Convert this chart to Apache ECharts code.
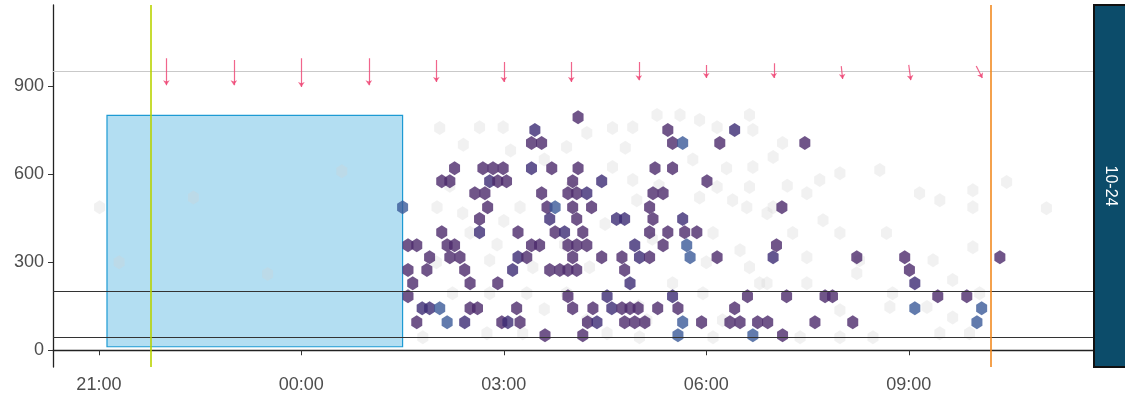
<!DOCTYPE html>
<html><head><meta charset="utf-8">
<script src="https://cdn.jsdelivr.net/npm/echarts@6/dist/echarts.min.js"></script>
<style>html,body{margin:0;padding:0;background:#fff}#c{width:1125px;height:400px}</style>
</head><body><div id="c"></div>
<script>
// x values are hours from midnight of the first day (27 = 03:00 next day)
const xTicks = [21, 24, 27, 30, 33];
const yTicks = [0, 300, 600, 900];
const panelLabel = '10-24';

// highlighted day: [hour, value, countLevel]
const dayHexes = [
  [28.10,794,1],
  [27.46,750,2],[29.43,750,1],[30.42,750,2],
  [27.41,706,1],[27.56,706,1],[29.50,706,1],[29.65,706,3],[30.20,706,1],[31.46,706,1],
  [26.27,620,1],[26.69,620,1],[26.84,620,1],[26.99,620,1],[27.41,620,2],[27.71,620,1],[28.10,620,1],[29.24,620,1],[29.50,620,1],
  [26.08,576,1],[26.20,576,1],[26.79,576,2],[26.91,576,1],[27.04,576,1],[28.02,576,1],[28.45,576,2],[30.01,576,1],
  [26.57,535,1],[26.72,535,1],[27.56,535,1],[27.95,535,1],[28.08,535,1],[28.23,535,2],[29.21,535,1],[29.36,535,1],
  [25.50,487,3],[26.76,487,1],[27.64,487,1],[27.76,487,3],[28.02,487,1],[28.30,487,1],[29.16,487,1],[31.12,487,1],
  [26.64,447,1],[27.68,447,2],[28.08,447,1],[28.67,447,2],[28.79,447,2],[29.21,447,1],[29.65,447,2],
  [26.08,402,1],[26.64,402,2],[27.21,402,1],[27.76,402,1],[27.90,402,2],[28.17,402,1],[29.16,402,1],[29.43,402,1],[29.68,402,1],[29.86,402,1],
  [25.58,358,1],[25.71,358,1],[26.16,358,1],[26.27,358,1],[27.41,358,1],[27.53,358,1],[27.95,358,1],[28.08,358,1],[28.23,358,1],[28.94,358,2],[29.36,358,1],[29.71,358,3],[31.04,358,1],
  [25.90,317,1],[26.20,317,1],[26.35,317,1],[27.21,317,2],[27.34,317,1],[28.02,317,1],[28.45,317,1],[28.75,317,1],[29.01,317,2],[29.16,317,1],[29.76,317,3],[30.16,317,1],[30.99,317,2],[32.23,317,1],[32.94,317,1],[34.35,317,1],
  [25.58,273,1],[25.86,273,1],[26.42,273,1],[27.13,273,2],[27.68,273,1],[27.83,273,1],[27.95,273,1],[28.08,273,1],[28.79,273,1],[33.01,273,1],
  [25.65,228,1],[26.50,228,1],[26.91,228,1],[28.87,228,2],[33.09,228,2],
  [25.58,184,1],[27.95,184,1],[28.53,184,2],[29.50,184,2],[30.61,184,1],[31.19,184,1],[31.76,184,1],[31.87,184,1],[33.43,184,1],[33.86,184,1],
  [25.79,143,2],[25.90,143,2],[26.05,143,3],[26.50,143,1],[26.61,143,1],[27.19,143,1],[28.02,143,1],[28.32,143,1],[28.60,143,2],[28.75,143,1],[28.87,143,1],[28.99,143,1],[29.28,143,1],[29.58,143,1],[30.42,143,1],[33.09,143,3],[34.08,143,3],
  [25.71,95,1],[26.16,95,3],[26.42,95,2],[26.97,95,1],[27.06,95,2],[27.24,95,1],[28.24,95,1],[28.38,95,2],[28.79,95,1],[28.94,95,1],[29.09,95,1],[29.65,95,3],[29.93,95,1],[30.35,95,1],[30.50,95,1],[30.76,95,1],[30.91,95,1],[31.61,95,1],[32.17,95,1],[34.01,95,3],
  [27.61,51,1],[28.17,51,1],[29.58,51,3],[30.69,51,3],[31.13,51,1]
];

// background (other days), faint grey
const otherHexes = [
  [21.01,487],[21.30,300],[22.4,520],[23.5,260],[24.6,610],
  [25.80,44],[26.05,757],[26.64,760],[26.99,760],[27.93,692],[28.23,740],[28.61,757],[28.91,760],[29.27,801],[29.61,801],[29.90,784],[30.16,760],[30.69,750],
  [26.01,487],[26.39,467],[27.24,487],[28.61,624],[28.91,580],[28.97,511],[30.16,556],[30.39,511],[30.64,556],[30.90,467],[30.10,399],[30.50,341],[30.64,283],[30.90,228],
  [28.27,283],[27.93,194],[27.34,194],[26.79,194],[26.24,194],[28.23,102],[29.12,102],[29.50,228],[29.95,194],[30.24,102],[26.75,58],[27.28,58],[28.53,58],[29.01,44],[30.10,44],[27.43,283],[26.79,307],
  [27.6,650],[28.0,560],[26.5,400],[27.0,440],[29.8,650],[29.3,560],[28.5,430],[29.2,380],[26.2,560],[27.9,360],[30.3,620],[31.2,560],[30.0,300],[29.0,150],[27.6,140],
  [26.4,700],[27.1,680],[28.8,690],[29.9,520],[26.0,300],[26.9,360],
  [30.64,801],[31.13,706],[30.69,624],[30.99,658],[31.68,580],[31.49,535],[31.98,603],[32.57,614],[33.16,535],[33.46,511],[33.95,545],[33.95,487],[34.45,573],[35.04,484],
  [31.73,443],[31.28,399],[31.98,399],[32.67,399],[32.27,307],[31.49,317],[33.36,307],[33.95,351],[30.79,228],[31.49,228],[32.23,262],[32.76,194],[33.65,239],[34.05,194],
  [31.98,136],[32.72,147],[33.27,147],[33.65,112],[31.39,44],[31.98,44],[32.47,44],[33.46,58],[33.90,58],[30.60,487],[30.99,487]
];

const arrowHours  = [22, 23, 24, 25, 26, 27, 28, 29, 30, 31, 32, 33, 34];
const arrowTop    = [995, 989, 995, 995, 989, 982, 982, 982, 972, 978, 968, 972, 968];
const arrowBottom = [903, 903, 897, 903, 914, 914, 914, 920, 927, 927, 924, 920, 927];
const arrowShift  = [0, 0, 0, 0, 0, 0, 0, 0, 0, 0, 0.02, 0.03, 0.09];

const boxStart = [21.12, 12];
const boxEnd = [25.50, 800];
const startLine = 21.77;
const endLine = 34.21;
const hLines = [200, 45];
const refLine = 950;

const hex = 'path://M0,-1 L0.866,-0.5 L0.866,0.5 L0,1 L-0.866,0.5 L-0.866,-0.5 Z';
const levelColors = {1:'#4c2a6c', 2:'#3c2c74', 3:'#3b5a98'};
const font = 'Liberation Sans, Arial, sans-serif';

const chart = echarts.init(document.getElementById('c'));
chart.setOption({
  animation: false,
  grid: {left: 53, right: 32, top: 5, bottom: 33},
  xAxis: {
    type: 'value', min: 20.32, max: 35.73,
    axisLine: {lineStyle: {color: '#222', width: 1.3}},
    axisTick: {customValues: xTicks, length: 5, lineStyle: {color: '#333'}},
    axisLabel: {customValues: xTicks, margin: 9, color: '#4d4d4d', fontSize: 18, fontFamily: font,
      formatter: v => { const h = Math.round(v) % 24; return (h < 10 ? '0' : '') + h + ':00'; }},
    splitLine: {show: false}
  },
  yAxis: {
    type: 'value', min: -57, max: 1176,
    axisLine: {show: true, lineStyle: {color: '#222', width: 1.3}},
    axisTick: {show: true, customValues: yTicks, length: 5, lineStyle: {color: '#333'}},
    axisLabel: {customValues: yTicks, margin: 9, color: '#4d4d4d', fontSize: 18, fontFamily: font},
    splitLine: {show: false}
  },
  graphic: [
    {type: 'rect', shape: {x: 1094, y: 5, width: 40, height: 362}, style: {fill: '#0c4c6a', stroke: '#111', lineWidth: 2}, z: 100},
    {type: 'text', x: 1110, y: 186, rotation: -Math.PI / 2,
      style: {text: panelLabel, fill: '#fff', font: '16px ' + font, align: 'center', verticalAlign: 'middle'}, z: 101}
  ],
  series: [
    {type: 'scatter', z: 1, silent: true, symbol: hex, symbolSize: [11, 14],
      itemStyle: {color: '#d2d2d2', opacity: 0.3},
      data: otherHexes},
    {type: 'scatter', z: 2, silent: true, data: [],
      markArea: {silent: true, itemStyle: {color: 'rgba(128,200,233,0.6)', borderColor: '#1d9ad3', borderWidth: 1.2},
        data: [[{coord: boxStart}, {coord: boxEnd}]]}},
    {type: 'scatter', z: 3, silent: true, symbol: hex, symbolSize: [11, 14],
      itemStyle: {color: p => levelColors[p.value[2]]},
      data: dayHexes},
    {type: 'scatter', z: 4, silent: true, data: [],
      markLine: {silent: true, symbol: 'none', label: {show: false},
        data: [
          ...hLines.map(v => ({yAxis: v, lineStyle: {color: '#333', width: 1, type: 'solid'}})),
          {yAxis: refLine, lineStyle: {color: '#c9c9c9', width: 1, type: 'solid'}},
          {xAxis: startLine, lineStyle: {color: '#b9d400', width: 1.6, type: 'solid'}},
          {xAxis: endLine, lineStyle: {color: '#f28a20', width: 1.6, type: 'solid'}}
        ]}},
    {type: 'lines', coordinateSystem: 'cartesian2d', z: 5, silent: true,
      symbol: ['none', 'arrow'], symbolSize: 5,
      lineStyle: {color: '#ef4a78', width: 1.2, opacity: 0.85},
      data: arrowHours.map((h, i) => ({coords: [[h, arrowTop[i]], [h + arrowShift[i], arrowBottom[i]]]}))}
  ]
});
</script></body></html>
